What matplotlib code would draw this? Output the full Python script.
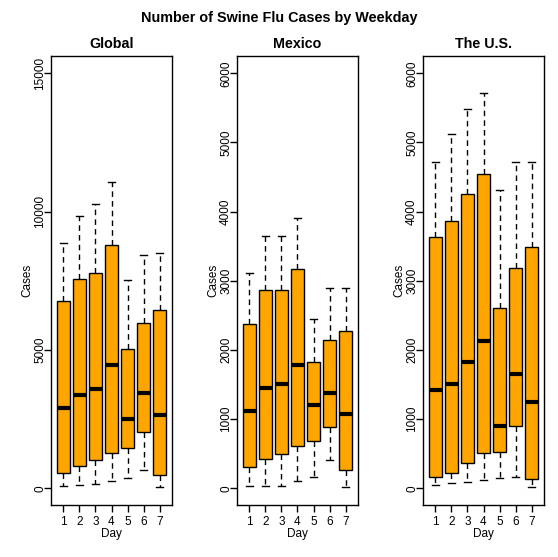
import matplotlib.pyplot as plt

plt.rcParams['font.family'] = ['Liberation Sans', 'DejaVu Sans']

days = [1, 2, 3, 4, 5, 6, 7]

# five-number summaries: low whisker, Q1, median, Q3, high whisker
global_lo = [72, 108, 157, 253, 361, 651, 36]
global_q1 = [566, 795, 1012, 1289, 1446, 2048, 470]
global_med = [2892, 3361, 3578, 4446, 2494, 3434, 2638]
global_q3 = [6760, 7554, 7771, 8783, 5024, 5964, 6434]
global_hi = [8880, 9843, 10277, 11072, 7530, 8446, 8494]

mexico_lo = [29, 29, 29, 101, 159, 405, 14]
mexico_q1 = [304, 419, 492, 607, 679, 882, 260]
mexico_med = [1118, 1446, 1504, 1778, 1200, 1373, 1070]
mexico_q3 = [2371, 2862, 2862, 3166, 1822, 2140, 2270]
mexico_hi = [3108, 3653, 3653, 3903, 2443, 2901, 2901]

us_lo = [43, 72, 87, 116, 145, 159, 14]
us_q1 = [159, 226, 361, 506, 520, 896, 130]
us_med = [1417, 1504, 1822, 2125, 896, 1648, 1243]
us_q3 = [3629, 3860, 4250, 4539, 2602, 3181, 3484]
us_hi = [4713, 5127, 5479, 5715, 4308, 4713, 4713]

panels = [
    ("Global", global_lo, global_q1, global_med, global_q3, global_hi, [0, 5000, 10000, 15000], (-603, 15626)),
    ("Mexico", mexico_lo, mexico_q1, mexico_med, mexico_q3, mexico_hi, [0, 1000, 2000, 3000, 4000, 5000, 6000], (-241, 6250)),
    ("The U.S.", us_lo, us_q1, us_med, us_q3, us_hi, [0, 1000, 2000, 3000, 4000, 5000, 6000], (-241, 6250)),
]

W, H = 558, 557
fig = plt.figure(figsize=(W / 100, H / 100), dpi=100)
lefts = [51, 237, 423]
top, bottom = 56, 505
width = 121

for (name, lo, q1, med, q3, hi, yt, ylim), left in zip(panels, lefts):
    ax = fig.add_axes([left / W, 1 - bottom / H, width / W, (bottom - top) / H])
    stats = []
    for i in range(len(days)):
        stats.append({'whislo': lo[i], 'q1': q1[i], 'med': med[i], 'q3': q3[i], 'whishi': hi[i], 'fliers': []})
    ax.bxp(stats, positions=days, widths=0.8, capwidths=0.4, patch_artist=True,
           boxprops=dict(facecolor='#FFA500', edgecolor='black', linewidth=1),
           whiskerprops=dict(linestyle=(0, (4, 3)), color='black', linewidth=1),
           capprops=dict(color='black', linewidth=1),
           medianprops=dict(color='black', linewidth=3, solid_capstyle='butt'))
    ax.set_xlim(0.22, 7.78)
    ax.set_ylim(*ylim)
    ax.set_xticks(days)
    ax.set_xticklabels([str(d) for d in days])
    ax.set_yticks(yt)
    ax.set_yticklabels([str(v) for v in yt], rotation=90, va='center')
    ax.tick_params(direction='out', length=5, width=1, labelsize=8.5)
    ax.tick_params(axis='y', pad=-1.5)
    ax.tick_params(axis='x', pad=3)
    for s in ax.spines.values():
        s.set_linewidth(1)
    ax.set_title(name, fontsize=10.3, fontweight='bold', pad=6)
    ax.set_xlabel("Day", fontsize=8.5, labelpad=0)
    ax.set_ylabel("Cases", fontsize=8.5, labelpad=0.5)

fig.text(0.5, 1 - 18 / H, "Number of Swine Flu Cases by Weekday", ha='center', va='center',
         fontsize=10.4, fontweight='bold')

fig.savefig("out.png", dpi=100)
